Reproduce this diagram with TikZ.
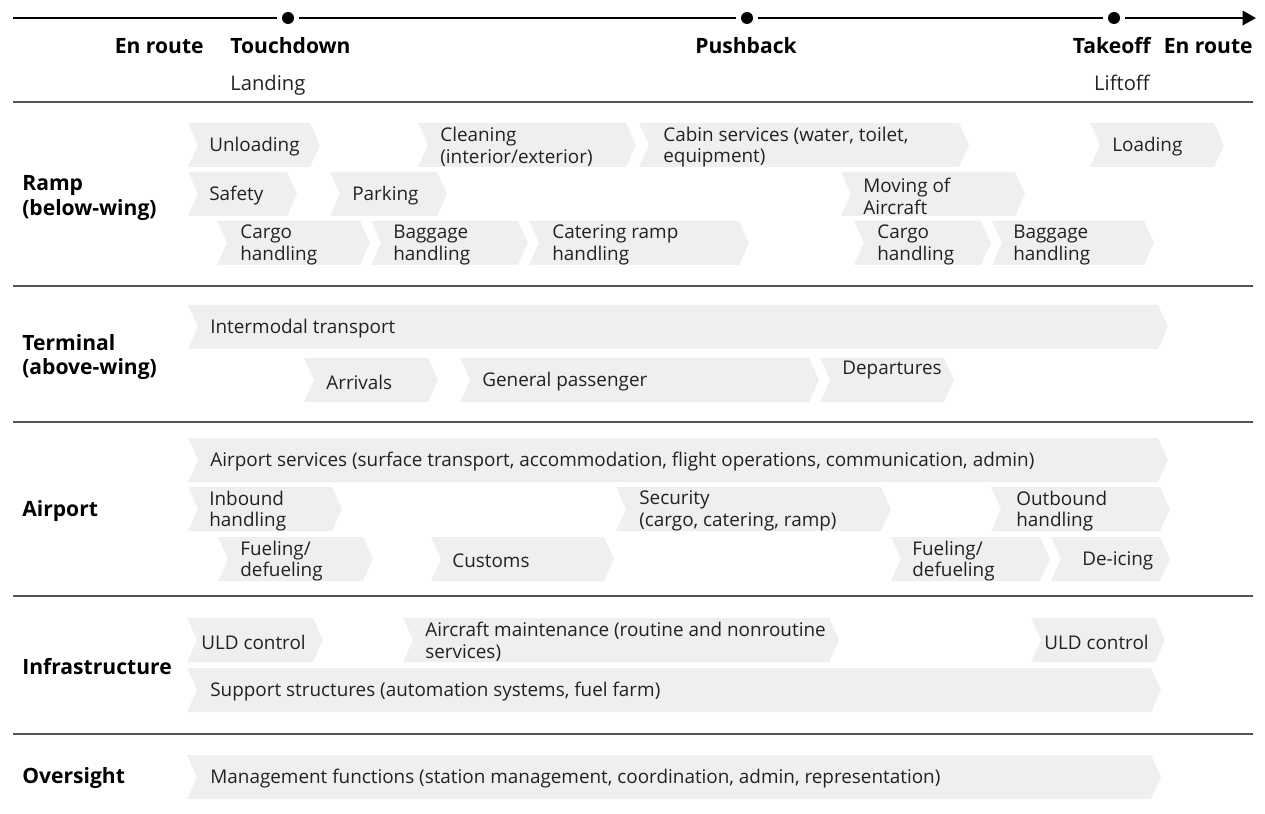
\documentclass[tikz,border=0pt]{standalone}
\usepackage{fontspec}
\setmainfont{Open Sans}
\usetikzlibrary{arrows.meta}
\definecolor{chevgray}{HTML}{EFEFEF}
\definecolor{rulegray}{HTML}{555555}
\definecolor{inkgray}{HTML}{222222}
\def\halfrow{22}
\def\tipdepth{10}

\begin{document}
\begin{tikzpicture}[x=0.02cm,y=-0.02cm]
    \tikzstyle{chevron}=[fill=chevgray]
    \tikzstyle{task}=[anchor=west, align=left, inner sep=0pt, text=inkgray, font=\fontsize{10.75}{12.4}\selectfont]
    \tikzstyle{area}=[anchor=west, align=left, inner sep=0pt, font=\bfseries\fontsize{12}{14}\selectfont]
    \tikzstyle{phase}=[inner sep=0pt, font=\bfseries\fontsize{12}{14}\selectfont]
    \tikzstyle{event}=[inner sep=0pt, text=inkgray, font=\fontsize{11.5}{14}\selectfont]
    \tikzstyle{milestone}=[circle, fill=black, minimum size=0.24cm, inner sep=0pt, outer sep=0.1cm]
    \tikzstyle{axis}=[line width=0.045cm]

    \useasboundingbox (0,0) rectangle (1265,814);

    % time axis
    \coordinate (T-start) at (13,18);
    \coordinate (T-end) at (1256,18);
    \node[milestone] (M-touch) at (288,18) {};
    \node[milestone] (M-push) at (747,18) {};
    \node[milestone] (M-take) at (1114,18) {};
    \draw[axis] (T-start) -- (M-touch);
    \draw[axis] (M-touch) -- (M-push);
    \draw[axis] (M-push) -- (M-take);
    \draw[axis, -{Triangle[length=0.27cm, width=0.29cm]}] (M-take) -- (T-end);

    \node[phase, anchor=base east] (P-in) at (204,54) {En route};
    \node[phase, anchor=base west] (P-touch) at (230,54) {Touchdown};
    \node[phase, anchor=base] (P-push) at (746,54) {Pushback};
    \node[phase, anchor=base east] (P-take) at (1151,54) {Takeoff};
    \node[phase, anchor=base east] (P-out) at (1253,54) {En route};
    \node[event, anchor=base west] (E-land) at (230,91) {Landing};
    \node[event, anchor=base east] (E-lift) at (1150,91) {Liftoff};

    % section rules
    \foreach \y in {102,286,422,596,734}
        \draw[rulegray, axis] (13,\y) -- (1253,\y);

    \node[area] (A-ramp) at (22,198) {Ramp\\(below-wing)};
    \node[area] (A-term) at (22,357) {Terminal\\(above-wing)};
    \node[area] (A-airport) at (22,511) {Airport};
    \node[area] (A-infra) at (22,667) {Infrastructure};
    \node[area] (A-over) at (22,778) {Oversight};

    % name / left / tip / row centre / text x / text
    \foreach \nm/\xa/\xb/\yc/\xt/\txt in {
        unload/188/320/145/209/Unloading,
        clean/418/636/145/440/{Cleaning\\(interior/exterior)},
        cabin/639/969/145/663/{Cabin services (water, toilet,\\equipment)},
        load/1090/1224/145/1112/Loading,
        safety/188/297/194/209/Safety,
        park/330/447/194/352/Parking,
        move/841/1025/194/863/{Moving of\\Aircraft},
        cargo-in/217/370/243/240/{Cargo\\handling},
        bag-in/371/528/243/393/{Baggage\\handling},
        cater/529/749/243/552/{Catering ramp\\handling},
        cargo-out/854/991/243/877/{Cargo\\handling},
        bag-out/992/1154/243/1013/{Baggage\\handling},
        inter/188/1168/327/210/Intermodal transport,
        arr/304/438/380/326/Arrivals,
        genpax/460/819/380/482/General passenger,
        serv/188/1168/460/210/{Airport services (surface transport, accommodation, flight operations, communication, admin)},
        inbound/188/342/509/209/{Inbound\\handling},
        secur/616/891/509/639/{Security\\(cargo, catering, ramp)},
        outbound/991/1170/509/1016/{Outbound\\handling},
        fuel-in/218/373/559/240/{Fueling/\\defueling},
        customs/431/614/559/452/Customs,
        fuel-out/891/1050/559/912/{Fueling/\\defueling},
        deice/1051/1170/559/1082/De-icing,
        uld-in/187/323/640/201/ULD control,
        maint/403/839/640/425/{Aircraft maintenance (routine and nonroutine\\services)},
        uld-out/1031/1165/640/1044/ULD control,
        support/187/1161/690/210/{Support structures (automation systems, fuel farm)},
        manage/187/1161/777/210/{Management functions (station management, coordination, admin, representation)}}
    {
        \fill[chevron] (\xa,\yc-\halfrow) -- (\xb-\tipdepth,\yc-\halfrow) -- (\xb,\yc)
            -- (\xb-\tipdepth,\yc+\halfrow) -- (\xa,\yc+\halfrow) -- (\xa+\tipdepth,\yc) -- cycle;
        \node[task] (\nm) at (\xt,\yc+2) {\txt};
    }

    % departures sits high in its box
    \fill[chevron] (820,358) -- (944,358) -- (954,380) -- (944,402) -- (820,402) -- (830,380) -- cycle;
    \node[task] (dep) at (842,370) {Departures};
\end{tikzpicture}
\end{document}
